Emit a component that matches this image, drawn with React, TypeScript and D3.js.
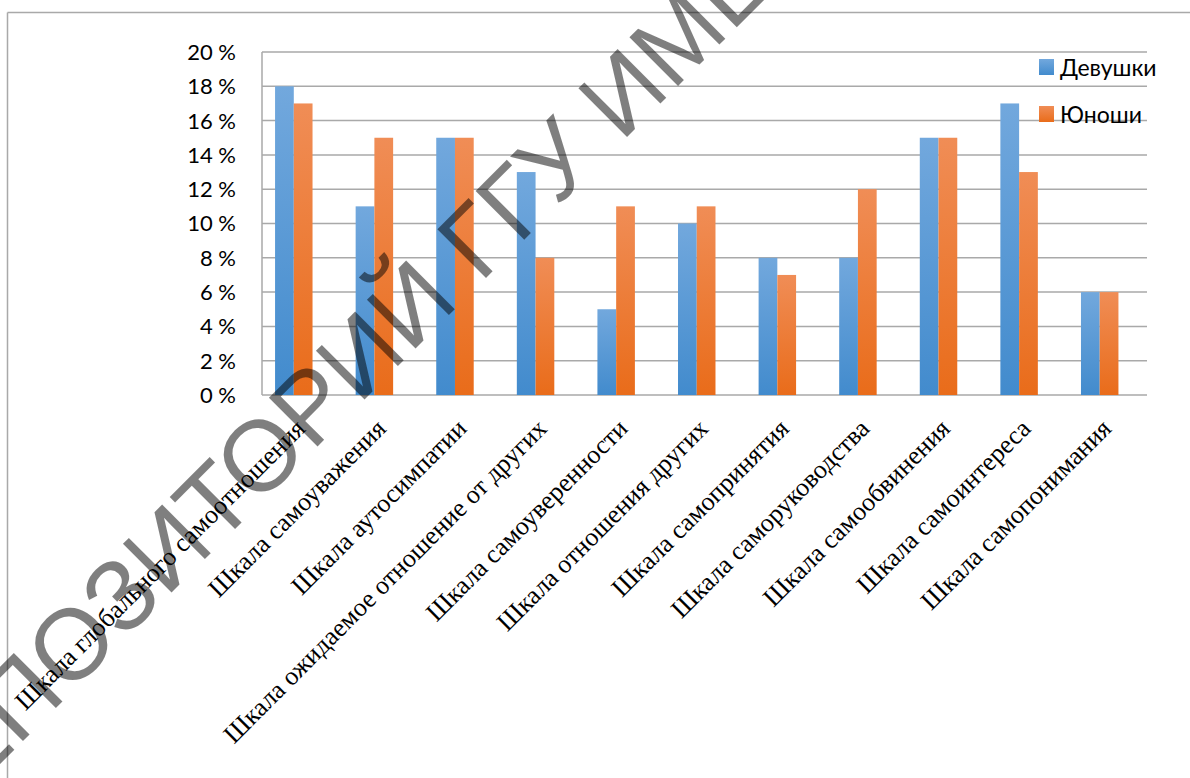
import React from "react";
import * as d3 from "d3";

const categories = [
  "Шкала глобального самоотношения",
  "Шкала самоуважения",
  "Шкала аутосимпатии",
  "Шкала ожидаемое отношение от других",
  "Шкала самоуверенности",
  "Шкала отношения других",
  "Шкала самопринятия",
  "Шкала саморуководства",
  "Шкала самообвинения",
  "Шкала самоинтереса",
  "Шкала самопонимания",
];
const girls = [18, 11, 15, 13, 5, 10, 8, 8, 15, 17, 6];
const boys = [17, 15, 15, 8, 11, 11, 7, 12, 15, 13, 6];
const seriesNames = ["Девушки", "Юноши"];
const yTicks = [0, 2, 4, 6, 8, 10, 12, 14, 16, 18, 20];
const watermark = "РЕПОЗИТОРИЙ ГГУ ИМЕНИ Ф. СКОРИНЫ";

const W = 1190;
const H = 778;
const plot = { left: 262, right: 1147, top: 52, bottom: 395 };

export default function App() {
  const y = d3.scaleLinear().domain([0, 20]).range([plot.bottom, plot.top]);
  const x = d3
    .scaleBand<string>()
    .domain(categories)
    .range([253.5, 1140])
    .paddingInner(0.535)
    .paddingOuter(0.2675);
  const bw = x.bandwidth() / 2;
  const series = [girls, boys];
  const grads = ["gBlue", "gOrange"];
  const gridColor = "#a9a9a9";

  return (
    <svg
      width={W}
      height={H}
      style={{ position: "absolute", left: 0, top: 0, background: "#fff" }}
    >
      <defs>
        <linearGradient id="gBlue" x1="0" y1="0" x2="0" y2="1">
          <stop offset="0" stopColor="#72a8dd" />
          <stop offset="1" stopColor="#428bcd" />
        </linearGradient>
        <linearGradient id="gOrange" x1="0" y1="0" x2="0" y2="1">
          <stop offset="0" stopColor="#f08d56" />
          <stop offset="1" stopColor="#e96c1a" />
        </linearGradient>
      </defs>
      <rect x={0} y={0} width={W} height={H} fill="#fff" />
      {/* outer chart frame */}
      <line x1={7.5} y1={12.5} x2={W + 10} y2={12.5} stroke={gridColor} strokeWidth={1.5} />
      <line x1={7.5} y1={12.5} x2={7.5} y2={H + 10} stroke={gridColor} strokeWidth={1.5} />

      {/* gridlines */}
      {yTicks.map((t) => (
        <line
          key={"g" + t}
          x1={plot.left}
          x2={plot.right}
          y1={y(t)}
          y2={y(t)}
          stroke={gridColor}
          strokeWidth={1.5}
        />
      ))}
      <line x1={plot.left} x2={plot.left} y1={plot.top} y2={plot.bottom} stroke={gridColor} strokeWidth={1.5} />

      {/* y tick labels */}
      {yTicks.map((t) => (
        <text
          key={"t" + t}
          x={236}
          y={y(t)}
          dy="0.36em"
          textAnchor="end"
          fontFamily="Lato, 'Noto Sans', sans-serif"
          fontSize={22}
          fill="#000"
        >
          {t + " %"}
        </text>
      ))}

      {/* bars */}
      {categories.map((c, i) => (
        <g key={"c" + i}>
          {series.map((s, k) => (
            <rect
              key={k}
              x={(x(c) as number) + k * bw}
              y={y(s[i])}
              width={bw}
              height={y(0) - y(s[i])}
              fill={`url(#${grads[k]})`}
            />
          ))}
        </g>
      ))}

      {/* x labels */}
      {categories.map((c, i) => {
        const cx = (x(c) as number) + x.bandwidth() / 2 + 13;
        const cy = 430;
        return (
          <text
            key={"l" + i}
            transform={`translate(${cx},${cy}) rotate(-45)`}
            textAnchor="end"
            fontFamily="'Liberation Serif', 'Times New Roman', serif"
            fontSize={26}
            fill="#000"
          >
            {c}
          </text>
        );
      })}

      {/* legend */}
      {seriesNames.map((n, k) => (
        <g key={"lg" + k} transform={`translate(1039,${59 + k * 47})`}>
          <rect x={0} y={0} width={15} height={16} fill={`url(#${grads[k]})`} />
          <text
            x={21}
            y={16.5}
            fontFamily="Lato, 'Noto Sans', sans-serif"
            fontSize={23}
            fill="#000"
          >
            {n}
          </text>
        </g>
      ))}

      {/* watermark */}
      <text
        transform="translate(-77,841) rotate(-45)"
        fontFamily="'Liberation Sans', Arial, sans-serif"
        fontSize={100}
        fill="rgba(0,0,0,0.5)"
      >
        {watermark}
      </text>
    </svg>
  );
}
